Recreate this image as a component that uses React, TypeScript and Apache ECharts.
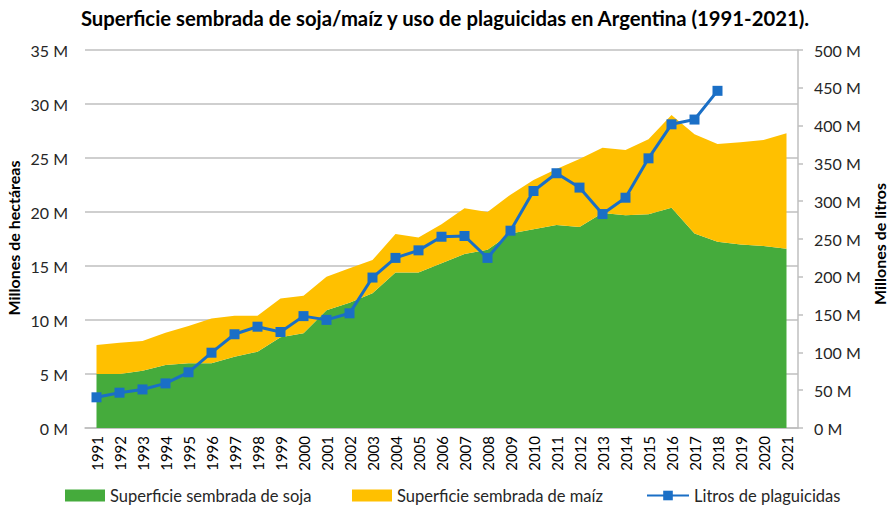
import React, { useEffect, useRef } from "react";
import * as echarts from "echarts";

const years = [
  "1991","1992","1993","1994","1995","1996","1997","1998","1999","2000",
  "2001","2002","2003","2004","2005","2006","2007","2008","2009","2010",
  "2011","2012","2013","2014","2015","2016","2017","2018","2019","2020","2021",
];

// Millones de hectáreas
const soja = [
  5.0, 5.0, 5.3, 5.83, 5.99, 6.0, 6.6, 7.07, 8.4, 8.77,
  10.9, 11.6, 12.47, 14.4, 14.4, 15.25, 16.1, 16.5, 18.0, 18.4,
  18.8, 18.6, 19.9, 19.7, 19.8, 20.4, 18.0, 17.25, 17.0, 16.85, 16.6,
];

const maiz = [
  2.69, 2.9, 2.75, 3.0, 3.45, 4.15, 3.8, 3.33, 3.6, 3.48,
  3.1, 3.2, 3.08, 3.56, 3.25, 3.61, 4.24, 3.5, 3.6, 4.56,
  5.18, 6.3, 6.05, 6.04, 6.93, 8.58, 9.2, 9.05, 9.45, 9.82, 10.7,
];

// Millones de litros
const plaguicidas: (number | null)[] = [
  40.6, 46.7, 51, 59, 73.7, 99.6, 124, 134, 127, 148,
  143, 151.7, 199, 225, 235, 253, 254, 225, 261, 313.5,
  337, 318, 283, 304.6, 356.7, 401.7, 408, 446, null, null, null,
];

const FONT = "Lato";
const GREEN = "#45AB3C";
const YELLOW = "#FFC000";
const BLUE = "#1A6FC6";

export default function App() {
  const ref = useRef<HTMLDivElement>(null);
  useEffect(() => {
    if (!ref.current) return;
    document.body.style.margin = "0";
    document.body.style.overflow = "hidden";
    const chart = echarts.init(ref.current, undefined, { renderer: "svg" });
    const legendText = { fontFamily: FONT, fontSize: 16.5, color: "#262626" };
    const nameStyle = { fontFamily: FONT, fontSize: 16, fontWeight: "bold", fill: "#000", align: "center", verticalAlign: "middle" };
    chart.setOption({
      animation: false,
      textStyle: { fontFamily: FONT },
      title: {
        text: "Superficie sembrada de soja/maíz y uso de plaguicidas en Argentina (1991-2021).",
        left: "center",
        top: 3,
        textStyle: { fontFamily: FONT, fontSize: 20.3, fontWeight: "bold", color: "#000" },
      },
      graphic: [
        { type: "text", x: 13, y: 238, rotation: Math.PI / 2, style: { text: "Millones de hectáreas", ...nameStyle } },
        { type: "text", x: 879, y: 244, rotation: Math.PI / 2, style: { text: "Millones de litros", ...nameStyle } },
      ],
      legend: [
        {
          left: 65, top: 487, padding: 0, itemWidth: 40, itemHeight: 12,
          data: [{ name: "Superficie sembrada de soja", icon: "rect" }],
          textStyle: legendText,
        },
        {
          left: 352, top: 487, padding: 0, itemWidth: 40, itemHeight: 12,
          data: [{ name: "Superficie sembrada de maíz", icon: "rect" }],
          textStyle: legendText,
        },
        {
          left: 646, top: 487, padding: 0, itemWidth: 42, itemHeight: 12,
          data: [{ name: "Litros de plaguicidas" }],
          textStyle: legendText,
        },
      ],
      grid: { left: 85, right: 92, top: 50, bottom: 82 },
      xAxis: {
        type: "category",
        data: years,
        boundaryGap: true,
        axisLine: { show: true, lineStyle: { color: "#bfbfbf", width: 1.5 } },
        axisTick: { show: false },
        axisLabel: {
          rotate: 90, interval: 0, fontFamily: FONT, fontSize: 15, color: "#000", margin: 8,
        },
      },
      yAxis: [
        {
          type: "value",
          min: 0, max: 35, interval: 5,
          axisLine: { show: false },
          axisTick: { show: false },
          axisLabel: { formatter: (v: number) => v + " M", fontFamily: FONT, fontSize: 16, color: "#262626", margin: 17 },
          splitLine: { lineStyle: { color: "#bfbfbf", width: 1.5 } },
        },
        {
          type: "value",
          min: 0, max: 500, interval: 50,
          axisLine: { show: true, lineStyle: { color: "#bfbfbf", width: 1.5 } },
          axisTick: { show: true, length: 5, lineStyle: { color: "#bfbfbf", width: 1.5 } },
          axisLabel: { formatter: (v: number) => v + " M", fontFamily: FONT, fontSize: 16, color: "#262626", margin: 16 },
          splitLine: { show: false },
        },
      ],
      series: [
        {
          name: "Superficie sembrada de soja",
          type: "line",
          stack: "sup",
          data: soja,
          showSymbol: false,
          symbol: "none",
          lineStyle: { width: 0 },
          areaStyle: { color: GREEN, opacity: 1 },
          itemStyle: { color: GREEN },
          z: 1,
        },
        {
          name: "Superficie sembrada de maíz",
          type: "line",
          stack: "sup",
          data: maiz,
          showSymbol: false,
          symbol: "none",
          lineStyle: { width: 0 },
          areaStyle: { color: YELLOW, opacity: 1 },
          itemStyle: { color: YELLOW },
          z: 1,
        },
        {
          name: "Litros de plaguicidas",
          type: "line",
          yAxisIndex: 1,
          data: plaguicidas,
          symbol: "rect",
          symbolSize: 10,
          lineStyle: { color: BLUE, width: 3 },
          itemStyle: { color: BLUE },
          z: 3,
        },
      ],
    });
    return () => chart.dispose();
  }, []);
  return <div ref={ref} style={{ position: "absolute", left: 0, top: 0, width: 890, height: 510 }} />;
}
